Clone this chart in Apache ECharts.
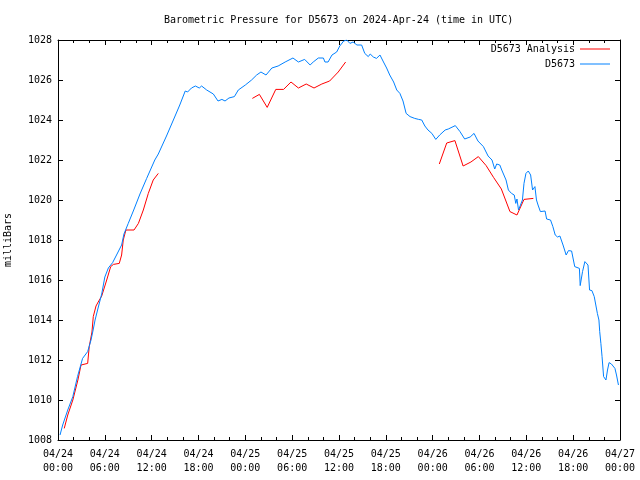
<!DOCTYPE html>
<html><head><meta charset="utf-8">
<script src="https://cdn.jsdelivr.net/npm/echarts/dist/echarts.min.js"></script>
<style>html,body{margin:0;padding:0;background:#fff}#c{width:640px;height:480px}</style>
</head><body><div id="c"></div>
<script>
// Hours since 2024-04-24 00:00 UTC
const tickLabels = ['04/24\n00:00','04/24\n06:00','04/24\n12:00','04/24\n18:00','04/25\n00:00','04/25\n06:00','04/25\n12:00','04/25\n18:00','04/26\n00:00','04/26\n06:00','04/26\n12:00','04/26\n18:00','04/27\n00:00'];

const obsHours = [0.26,0.6,1.25,1.9,2.5,3.15,3.8,4.23,4.5,4.75,5.2,5.6,6.0,6.45,7.0,7.5,8.15,8.45,9.0,9.7,10.5,11.36,12.4,12.85,13.9,15.0,15.6,16.3,16.6,17.1,17.6,18.1,18.4,19.05,19.9,20.5,21.0,21.4,21.9,22.6,23.1,24.0,24.8,25.45,26.0,26.65,27.4,28.2,29.1,30.1,30.8,31.6,32.3,32.7,33.35,34.0,34.2,34.6,35.1,35.7,36.1,36.6,37.0,37.4,37.8,38.3,38.9,39.3,39.75,40.0,40.4,40.8,41.25,41.7,42.1,42.5,43.0,43.4,43.8,44.2,44.6,45.1,45.7,46.2,46.6,47.0,47.4,47.9,48.4,48.9,49.6,50.0,50.9,51.5,52.1,52.8,53.3,53.8,54.5,55.1,55.6,55.95,56.2,56.6,56.85,57.4,57.7,58.1,58.45,58.65,58.8,59.0,59.2,59.5,59.7,59.95,60.25,60.55,60.8,61.1,61.3,61.5,61.8,62.4,62.6,63.1,63.4,63.7,64.0,64.3,64.7,65.1,65.4,65.8,66.2,66.45,66.8,66.9,67.2,67.5,67.7,67.9,68.1,68.4,68.7,69.1,69.3,69.4,69.55,69.7,69.9,70.2,70.4,70.6,70.9,71.35,71.55,71.8];
const obsValues = [1008.25,1008.75,1009.5,1010.17,1011.17,1012.08,1012.42,1013.0,1013.5,1014.0,1014.7,1015.3,1016.15,1016.6,1016.87,1017.25,1017.75,1018.3,1018.83,1019.5,1020.3,1021.08,1022.0,1022.3,1023.2,1024.2,1024.75,1025.45,1025.4,1025.6,1025.7,1025.6,1025.7,1025.5,1025.3,1024.95,1025.03,1024.95,1025.1,1025.17,1025.5,1025.75,1026.0,1026.25,1026.4,1026.25,1026.6,1026.7,1026.9,1027.1,1026.9,1027.03,1026.75,1026.9,1027.1,1027.1,1026.9,1026.9,1027.25,1027.4,1027.7,1027.95,1028.0,1027.83,1027.9,1027.75,1027.75,1027.33,1027.17,1027.3,1027.15,1027.08,1027.25,1026.9,1026.6,1026.25,1025.9,1025.5,1025.33,1024.95,1024.33,1024.17,1024.08,1024.03,1024.0,1023.7,1023.5,1023.33,1023.03,1023.25,1023.5,1023.55,1023.72,1023.42,1023.05,1023.15,1023.33,1022.95,1022.67,1022.2,1022.0,1021.55,1021.8,1021.75,1021.5,1021.0,1020.5,1020.33,1020.25,1019.83,1020.05,1019.5,1019.7,1020.0,1020.83,1021.33,1021.45,1021.25,1020.5,1020.67,1020.0,1019.75,1019.42,1019.45,1019.05,1019.0,1018.67,1018.25,1018.15,1018.2,1017.75,1017.25,1017.47,1017.45,1016.67,1016.58,1016.58,1015.72,1016.42,1016.92,1017.0,1016.75,1015.5,1015.47,1015.17,1014.33,1014.0,1013.42,1012.83,1012.17,1011.17,1011.0,1011.5,1011.87,1011.8,1011.58,1011.25,1010.75];

const anaHours = [0.8,1.25,1.9,2.55,2.95,3.15,3.8,4.0,4.35,4.52,4.87,5.15,5.6,6.24,6.75,7.1,7.85,8.15,8.36,8.7,9.74,10.3,10.93,11.57,12.2,12.85,
  18.0,
  24.9,25.8,26.8,27.9,28.9,29.85,30.8,31.8,32.8,33.8,34.8,35.9,36.85,
  42.0,
  48.85,49.8,50.85,51.9,52.9,53.85,54.85,55.8,56.8,57.9,58.8,59.7,60.9];
const anaValues = [1008.58,1009.25,1010.0,1011.0,1011.75,1011.83,1011.83,1012.67,1013.4,1014.17,1014.7,1014.9,1015.2,1016.0,1016.67,1016.78,1016.83,1017.25,1018.0,1018.5,1018.5,1018.83,1019.5,1020.33,1021.0,1021.33,
  null,
  1025.08,1025.28,1024.63,1025.53,1025.53,1025.9,1025.6,1025.8,1025.6,1025.8,1025.95,1026.4,1026.9,
  null,
  1021.8,1022.85,1022.97,1021.7,1021.9,1022.17,1021.72,1021.13,1020.55,1019.42,1019.25,1020.03,1020.08];

const FONT = 'DejaVu Sans Mono';
const RED = '#ff0000', BLUE = '#0080ff';

function pairs(xs, ys){ return xs.map((x,i)=>[x, ys[i]==null ? '-' : ys[i]]); }

const chart = echarts.init(document.getElementById('c'), null, {renderer:'canvas'});

const xBase = {
  type:'value', min:0, max:72, interval:6,
  axisLine:{show:true, onZero:false, lineStyle:{color:'#000', width:1}},
  axisTick:{show:true, inside:true, length:5, lineStyle:{color:'#000'}},
  minorTick:{show:true, splitNumber:3, length:3, lineStyle:{color:'#000'}},
  splitLine:{show:false}, minorSplitLine:{show:false}
};
const yBase = {
  type:'value', min:1008, max:1028, interval:2,
  axisLine:{show:true, onZero:false, lineStyle:{color:'#000', width:1}},
  axisTick:{show:true, inside:true, length:5, lineStyle:{color:'#000'}},
  splitLine:{show:false}
};

chart.setOption({
  animation:false,
  backgroundColor:'#fff',
  title:{
    text:'Barometric Pressure for D5673 on 2024-Apr-24 (time in UTC)',
    left:164, top:15, padding:0,
    textStyle:{fontFamily:FONT, fontSize:10, fontWeight:'normal', color:'#000'}
  },
  legend:[
    {data:['D5673 Analysis'], right:30, top:44, padding:0, align:'right', icon:'rect', itemWidth:30, itemHeight:1,
     textStyle:{fontFamily:FONT, fontSize:10, color:'#000'}},
    {data:['D5673'], right:30, top:59, padding:0, align:'right', icon:'rect', itemWidth:30, itemHeight:1,
     textStyle:{fontFamily:FONT, fontSize:10, color:'#000'}}
  ],
  grid:{left:58, right:20, top:40, bottom:40, containLabel:false, outerBoundsMode:'none'},
  xAxis:[
    Object.assign({}, xBase, {position:'bottom',
      axisLabel:{show:true, margin:7, fontFamily:FONT, fontSize:10, color:'#000', lineHeight:14,
        formatter:(v)=>tickLabels[Math.round(v/6)]}}),
    Object.assign({}, xBase, {position:'top', axisLabel:{show:false}})
  ],
  yAxis:[
    Object.assign({}, yBase, {position:'left',
      name:'milliBars', nameLocation:'middle', nameGap:45, nameRotate:90,
      nameTextStyle:{fontFamily:FONT, fontSize:10, color:'#000'},
      axisLabel:{show:true, margin:6, fontFamily:FONT, fontSize:10, color:'#000',
        formatter:(v)=>String(v)}}),
    Object.assign({}, yBase, {position:'right', axisLabel:{show:false}})
  ],
  series:[
    {name:'D5673 Analysis', type:'line', xAxisIndex:0, yAxisIndex:0, showSymbol:false, symbol:'none',
     connectNulls:false, data:pairs(anaHours, anaValues),
     itemStyle:{color:RED}, lineStyle:{color:RED, width:1}},
    {name:'D5673', type:'line', xAxisIndex:0, yAxisIndex:0, showSymbol:false, symbol:'none',
     data:pairs(obsHours, obsValues),
     itemStyle:{color:BLUE}, lineStyle:{color:BLUE, width:1}}
  ]
});
</script>
</body></html>
